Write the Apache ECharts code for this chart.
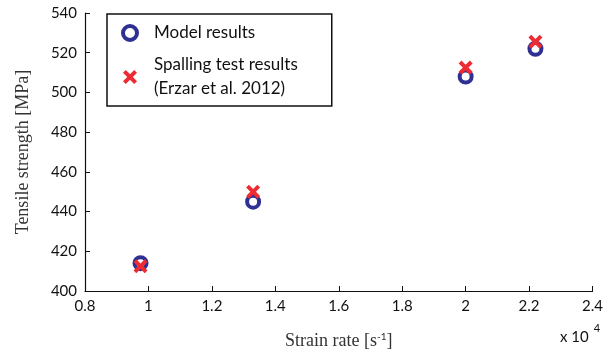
<!DOCTYPE html>
<html>
<head>
<meta charset="utf-8">
<script src="https://cdn.jsdelivr.net/npm/echarts@6/dist/echarts.min.js"></script>
<style>
  html, body { margin: 0; padding: 0; background: #fff; }
</style>
</head>
<body>
<div id="chart_strength" style="width: 606px; height: 355px"></div>
<script>
// strain rate in units of 1e4 s^-1
var strainRate = [0.975, 1.33, 2.0, 2.22];
var modelStrength = [414, 445, 508, 522]; // model results, MPa
var testStrength = [412.5, 450, 512.5, 525.5]; // spalling tests (Erzar et al. 2012)
var xTicks = { min: 0.8, max: 2.4, interval: 0.2 };
var yTicks = { min: 400, max: 540, interval: 20 };

var blue = '#2e3192';
var red = '#ee2a32';
var crossPath = 'path://M2,0 L5,3 L8,0 L10,2 L7,5 L10,8 L8,10 L5,7 L2,10 L0,8 L3,5 L0,2 Z';
var sans = 'Lato';
var serif = 'Liberation Serif';

var modelName = 'Model results';
var testName = 'Spalling test results\n(Erzar et al. 2012)';

function pairs(xs, ys) {
  return xs.map(function (x, i) { return [x, ys[i]]; });
}

var myChart = echarts.init(document.getElementById('chart_strength'));
var option = {
  animation: false,
  backgroundColor: '#fff',
  title: {
    left: 555,
    top: 315,
    text: '{a|x 10}{b|4}',
    textStyle: {
      fontWeight: 'normal',
      rich: {
        a: { fontFamily: sans, fontSize: 15, fontWeight: 'normal', color: '#111', padding: [10, 0, 0, 0] },
        b: { fontFamily: sans, fontSize: 11, fontWeight: 'normal', color: '#111', padding: [0, 0, 8, 5] }
      }
    }
  },
  legend: {
    left: 107,
    top: 14,
    orient: 'vertical',
    borderColor: '#111',
    borderWidth: 1.5,
    padding: [7, 34, 5, 14],
    itemGap: 8,
    itemWidth: 24,
    itemHeight: 14,
    textStyle: {
      fontFamily: sans,
      fontSize: 17,
      lineHeight: 24,
      color: '#111',
      padding: [0, 0, 0, 7]
    },
    data: [
      { name: modelName, itemStyle: { color: '#fff', borderColor: blue, borderWidth: 4 } },
      { name: testName }
    ]
  },
  grid: {
    left: 85,
    right: 10.5,
    top: 13,
    bottom: 62.5
  },
  xAxis: {
    type: 'value',
    min: xTicks.min,
    max: xTicks.max,
    interval: xTicks.interval,
    name: 'Strain rate [s{sup|-1}]',
    nameLocation: 'middle',
    nameGap: 41,
    nameTextStyle: {
      fontFamily: serif,
      fontSize: 18,
      color: '#333',
      rich: {
        sup: { fontFamily: sans, fontSize: 10, color: '#333', padding: [0, 0, 8, 0] }
      }
    },
    axisLine: { lineStyle: { color: '#111', width: 1.2 } },
    axisTick: { inside: true, length: 5, lineStyle: { color: '#111' } },
    axisLabel: { fontFamily: sans, fontSize: 15, color: '#111', margin: 8 },
    splitLine: { show: false }
  },
  yAxis: {
    type: 'value',
    min: yTicks.min,
    max: yTicks.max,
    interval: yTicks.interval,
    name: 'Tensile strength [MPa]',
    nameLocation: 'middle',
    nameGap: 53,
    nameTextStyle: { fontFamily: serif, fontSize: 18, color: '#333' },
    axisLine: { show: true, lineStyle: { color: '#111', width: 1.2 } },
    axisTick: { show: true, inside: true, length: 5, lineStyle: { color: '#111' } },
    axisLabel: { fontFamily: sans, fontSize: 15, color: '#111', margin: 8 },
    splitLine: { show: false }
  },
  series: [{
    name: modelName,
    type: 'scatter',
    symbol: 'circle',
    symbolSize: 12,
    itemStyle: { color: '#fff', borderColor: blue, borderWidth: 4, opacity: 1 },
    data: pairs(strainRate, modelStrength)
  }, {
    name: testName,
    type: 'scatter',
    symbol: crossPath,
    symbolSize: 14,
    itemStyle: { color: red, opacity: 1 },
    data: pairs(strainRate, testStrength)
  }]
};
myChart.setOption(option);
</script>
</body>
</html>
